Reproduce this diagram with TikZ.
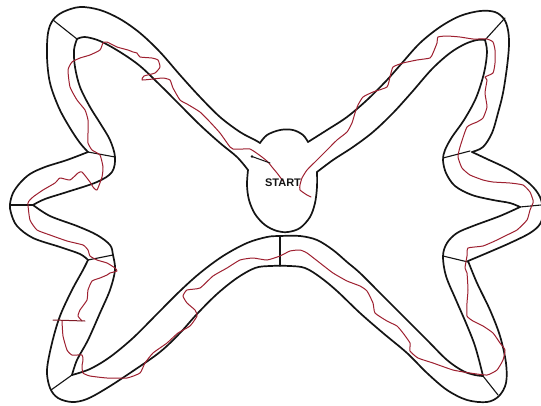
\documentclass[tikz,border=0pt]{standalone}
\usepackage{fontspec}
\newfontfamily\startfont{Liberation Sans}
\definecolor{tracered}{RGB}{158,32,48}
\definecolor{inkblack}{RGB}{20,20,20}
\begin{document}
\begin{tikzpicture}[x=1pt,y=-1pt,
  track/.style={draw=inkblack,line width=1.7pt,line cap=round,line join=round},
  divider/.style={draw=inkblack,line width=1.1pt,line cap=round},
  trace/.style={draw=tracered,line width=1pt,line cap=round,line join=round},
  sm/.style={smooth,tension=0.55}]
\useasboundingbox (0,0) rectangle (541,405);
\fill[white] (0,0) rectangle (541,405);

% ---------- outer boundary ----------
% oval top
\draw[track] plot[sm] coordinates {(260,143) (267,135) (280,130) (293,130) (303,135) (308,142)};
% right arm outer
\draw[track] plot[sm] coordinates {(308,142) (327,130) (347,117) (367,100) (387,80) (402,63) (420,43) (440,27) (460,16) (480,11) (495,12) (504,19) (508,30) (509,45) (507,67) (503,93) (498,113) (492,133) (483,147) (472,152)};
% right lobe outer
\draw[track] plot[sm] coordinates {(472,152) (487,159) (510,170) (530,184) (540,197) (543,212) (540,224) (530,233) (510,243) (487,253) (468,261)};
% lower-right, bottom band, lower-left outer
\draw[track] plot[sm] coordinates {(468,261) (477,283) (490,310) (500,336) (506,363) (506,383) (499,396) (487,402) (467,400) (447,390) (427,373) (407,353) (383,333) (360,313) (337,291) (320,277) (305,268) (290,266) (270,266) (255,268) (237,278) (217,294) (197,314) (180,333) (160,352) (133,371) (107,388) (87,399) (72,402) (58,398) (50,388) (47,370) (52,343) (60,316) (72,290) (83,270) (88,260)};
% left lobe outer
\draw[track] plot[sm] coordinates {(88,260) (80,254) (60,247) (33,238) (17,226) (11,213) (10,204) (13,193) (20,183) (30,174) (45,167) (67,160) (88,152)};
% left arm outer
\draw[track] plot[sm] coordinates {(88,152) (80,143) (70,128) (59,108) (50,83) (47,57) (48,33) (53,20) (63,12) (80,7) (100,10) (120,19) (140,33) (160,52) (180,75) (200,97) (220,117) (240,132) (255,140) (260,143)};

% ---------- inner boundary ----------
% oval bottom
\draw[track] plot[sm] coordinates {(248,170) (247,185) (249,200) (255,214) (265,225) (277,231) (288,232) (300,228) (310,217) (315,203) (317,187) (317,172)};
% right arm inner + lobe upper inner
\draw[track] plot[sm] coordinates {(317,172) (333,160) (353,147) (373,132) (393,113) (412,92) (432,69) (450,53) (465,44) (477,40) (485,40)};
\draw[track] plot[sm] coordinates {(485,40) (487,52) (484,73) (476,98) (464,120) (452,137) (445,150) (443,160) (446,173) (455,186) (472,195) (493,200) (510,203) (520,207)};
% right lobe lower inner + lower-right arm inner
\draw[track] plot[sm] coordinates {(520,207) (500,216) (473,226) (457,233) (447,243) (443,256) (446,276) (456,300) (466,323) (474,343) (479,360) (483,376)};
% bottom band upper edge
\draw[track] plot[sm] coordinates {(483,376) (475,375) (463,371) (447,360) (427,340) (403,316) (380,293) (360,273) (347,262) (333,250) (317,240) (300,236) (280,236) (267,237) (247,243) (223,256) (200,273) (180,291) (157,314) (133,338) (110,357) (90,369) (72,375)};
% lower-left arm inner + left lobe lower inner
\draw[track] plot[sm] coordinates {(72,375) (77,360) (88,340) (100,313) (110,290) (115,270) (113,255) (110,245) (97,235) (77,226) (50,216) (33,205)};
% left lobe upper inner + left arm inner
\draw[track] plot[sm] coordinates {(33,205) (45,199) (67,192) (97,182) (112,172) (115,157) (110,140) (100,123) (90,107) (80,87) (75,67) (74,50) (77,39)};
\draw[track] plot[sm] coordinates {(77,39) (85,37) (100,41) (120,52) (140,66) (160,85) (180,105) (200,125) (220,143) (237,157) (248,170)};

% ---------- dividers ----------
\draw[divider] (53,20) -- (77,39);
\draw[divider] (88,152) -- (115,157);
\draw[divider] (10,205) -- (33,205);
\draw[divider] (88,260) -- (113,255);
\draw[divider] (72,375) -- (51,390);
\draw[divider] (280,236) -- (280,266);
\draw[divider] (483,376) -- (498,395);
\draw[divider] (443,256) -- (468,262);
\draw[divider] (520,207) -- (541,205);
\draw[divider] (443,158) -- (470,151);
\draw[divider] (485,40) -- (505,18);

% ---------- traced red line ----------
\draw[trace] plot[smooth,tension=0.3] coordinates {(283,181) (277,173) (272,167) (268,162) (262,157) (255,152) (250,149) (243,149) (233,149) (230,147) (220,133) (210,122) (200,112) (187,104) (180,100) (173,88) (170,80) (163,78) (153,79) (142,80) (144,76) (155,73) (160,67) (158,60) (152,58) (140,57) (137,53) (133,52) (128,50) (117,47) (107,42) (103,43) (100,50) (90,55) (80,58) (72,62) (68,70) (70,87) (77,100) (85,110) (88,120) (88,133) (88,143) (92,150) (100,155) (103,167) (102,177) (97,190) (93,187) (90,182) (82,172) (78,173) (70,180) (60,178) (55,183) (43,190) (33,197) (28,203) (30,220) (37,230) (50,235) (67,241) (83,245) (88,250) (90,256) (97,260) (107,263) (115,268) (117,271) (110,273) (107,275) (100,278) (92,281) (88,290) (87,300) (80,310) (78,316) (82,321)};
\draw[trace,draw=tracered!80!black] (53,320) -- (85,321);
\draw[trace] plot[smooth,tension=0.3] coordinates {(62,321) (63,336) (67,350) (72,355) (82,355) (83,360) (82,366) (83,373) (90,376) (107,378) (127,378) (140,373) (145,363) (153,353) (167,343) (178,333) (190,326) (197,316) (195,310) (187,303) (183,296) (187,290) (200,288) (213,276) (227,268) (240,260) (253,258) (267,260) (280,256) (290,251) (300,250) (307,253) (320,263) (333,273) (347,281) (360,286) (367,291) (373,303) (375,313) (387,321) (397,326) (403,333) (410,343) (410,351) (418,358) (433,363) (453,370) (470,373) (487,375) (497,370) (503,360) (505,350) (500,343) (493,333) (483,326) (473,321) (467,316) (467,303) (468,290) (467,273) (465,268) (467,256) (468,248) (483,246) (497,240) (507,235) (517,230) (527,220) (530,210) (533,203) (533,200) (530,192) (523,185) (510,183) (493,182) (483,180) (470,175) (462,168) (458,157) (460,147) (467,127) (477,122) (483,118) (487,107) (485,93) (487,80) (485,77) (493,73) (495,63) (495,50) (493,42) (487,39) (473,39) (460,37) (447,36) (438,37) (437,43) (433,53) (430,58) (417,60) (403,63) (393,67) (390,77) (387,87) (373,92) (363,97) (358,105) (355,113) (352,123) (347,132) (337,140) (327,150) (317,160) (307,170) (302,178) (300,185) (300,190) (307,195) (311,197)};

% small pencil stroke near start
\fill[inkblack] (252,156.5) circle (1.3pt);
\draw[draw=inkblack,line width=1pt,line cap=round] (252,156.5) -- (270,163);

% ---------- label ----------
\node[font={\startfont\bfseries\fontsize{11}{13}\selectfont},text=inkblack,inner sep=0pt] (start) at (283,182.5) {START};
\end{tikzpicture}
\end{document}
